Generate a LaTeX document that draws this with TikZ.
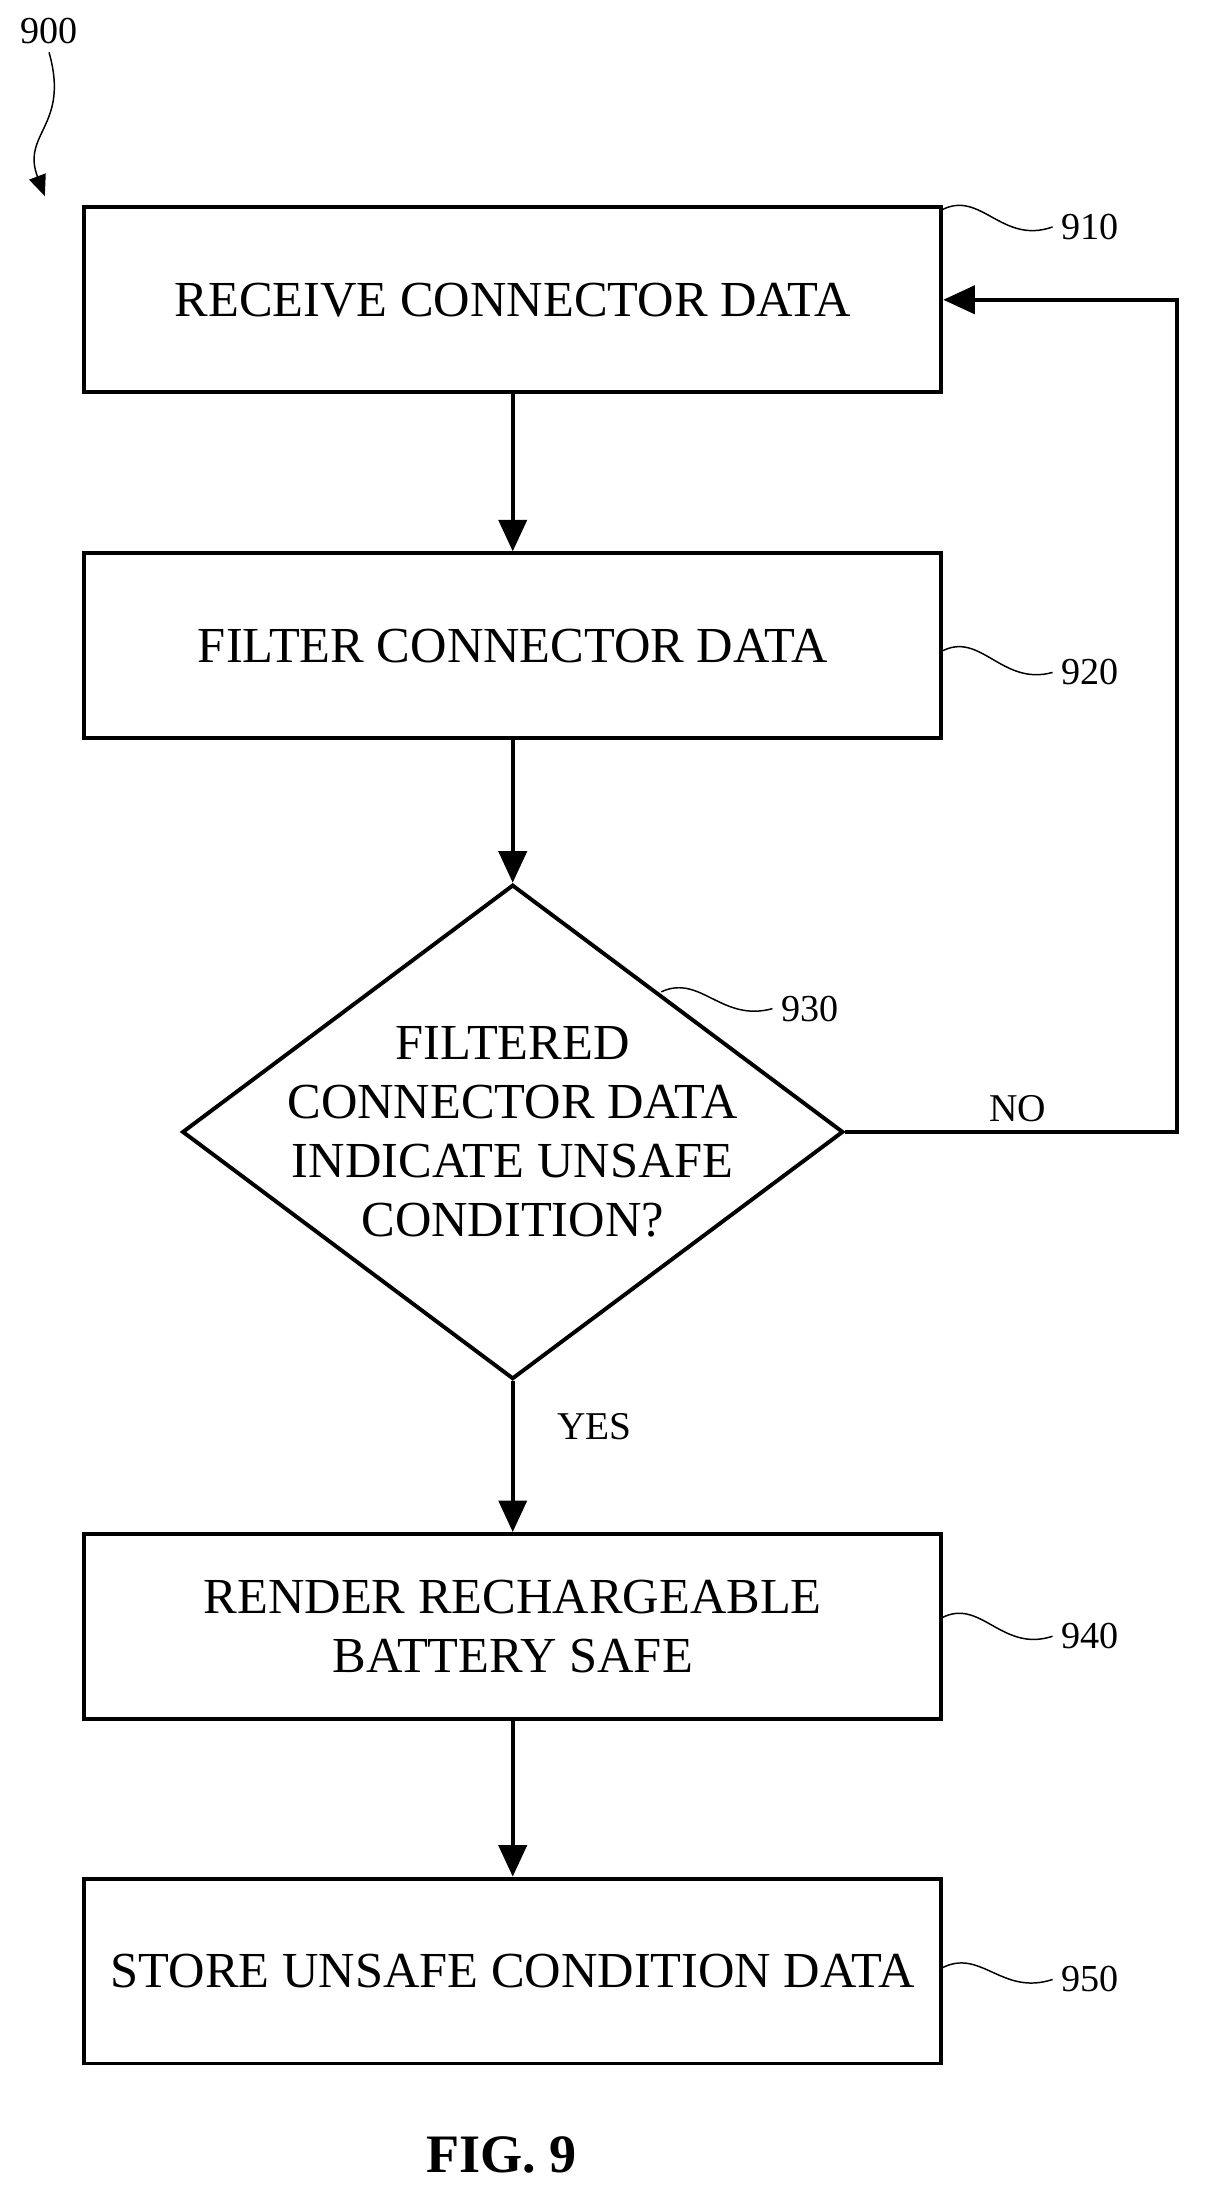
\documentclass[tikz,border=0pt]{standalone}
\usepackage{fontspec}
\setmainfont{Liberation Serif}
\usetikzlibrary{shapes.geometric,arrows.meta}
\tikzset{
block/.style = {draw, line width=1.6pt, rectangle, minimum width=12.24cm, minimum height=2.64cm, align=center, font=\fontsize{20.5}{24}\selectfont},
decision/.style = {draw, line width=1.6pt, diamond, minimum width=9.44cm, minimum height=7.06cm, inner sep=0pt},
dtext/.style = {align=center, font=\fontsize{20.5}{24}\selectfont},
flow/.style = {line width=1.6pt, -{Triangle[length=0.45cm,width=0.4cm]}},
refnum/.style = {font=\fontsize{15.5}{18}\selectfont},
squig/.style = {line width=0.6pt}
}
\begin{document}
\begin{tikzpicture}[x=0.02cm, y=-0.02cm]
  \useasboundingbox (0,0) rectangle (860,1574);

  \node [block]    (receive) at (366,214)  {RECEIVE CONNECTOR DATA};
  \node [block]    (filter)  at (366,461)  {FILTER CONNECTOR DATA};
  \node [decision] (unsafe)  at (366,808)  {};
  \node [dtext]    (unsafetext) at (366,808) {FILTERED\\CONNECTOR DATA\\INDICATE UNSAFE\\CONDITION?};
  \node [block]    (render)  at (366,1161) {RENDER RECHARGEABLE\\BATTERY SAFE};
  \node [block]    (store)   at (366,1407) {STORE UNSAFE CONDITION DATA};
  \coordinate (loop) at (840,808);

  \draw [flow] (receive) -- (filter);
  \draw [flow] (filter) -- (unsafe);
  \draw [flow] (unsafe) -- node[right, xshift=14pt, pos=0.3, font=\fontsize{16}{18}\selectfont] {YES} (render);
  \draw [flow] (render) -- (store);
  \draw [flow] (unsafe.east) -- node[above, pos=0.52, font=\fontsize{16}{18}\selectfont] {NO} (loop) |- (receive.east);

  % reference numerals
  \node [refnum] (n900) at (35,22)    {900};
  \node [refnum] (n910) at (778,162)  {910};
  \node [refnum] (n920) at (778,480)  {920};
  \node [refnum] (n930) at (578,720)  {930};
  \node [refnum] (n940) at (778,1168) {940};
  \node [refnum] (n950) at (778,1413) {950};

  \draw [squig, -{Triangle[length=0.3cm,width=0.25cm]}] (n900.south) .. controls (50,90) and (15,95) .. (32,140);
  \draw [squig] (672,150) .. controls (700,135) and (715,175) .. (n910.west);
  \draw [squig] (672,465) .. controls (700,450) and (715,490) .. (n920.west);
  \draw [squig] (472,708) .. controls (500,695) and (515,730) .. (n930.west);
  \draw [squig] (672,1155) .. controls (700,1140) and (715,1180) .. (n940.west);
  \draw [squig] (672,1405) .. controls (700,1390) and (715,1425) .. (n950.west);

  \node [font=\fontsize{22}{26}\selectfont\bfseries] (fig) at (358,1538) {FIG. 9};
\end{tikzpicture}
\end{document}
